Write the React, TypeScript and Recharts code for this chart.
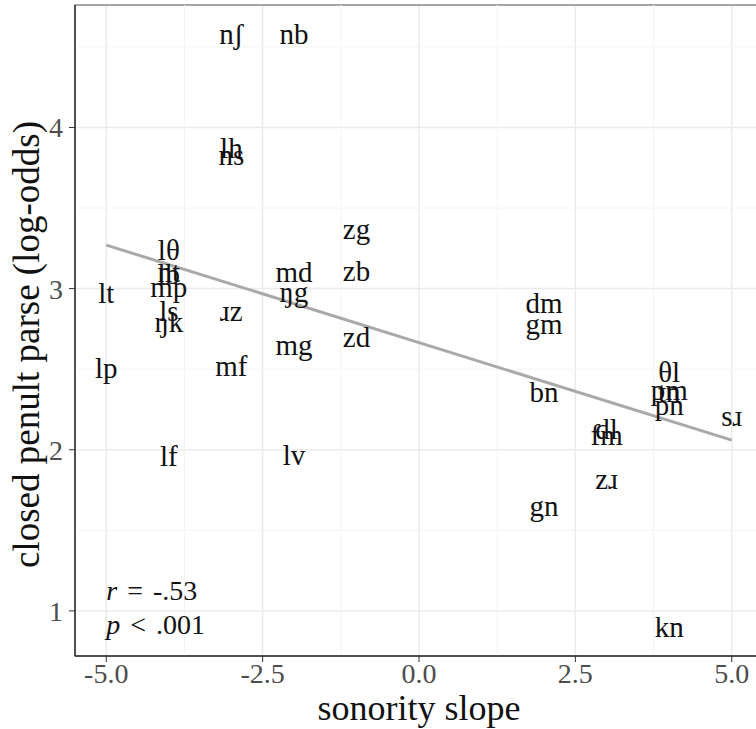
import {
  ComposedChart,
  Scatter,
  XAxis,
  YAxis,
  CartesianGrid,
  ReferenceLine,
  ReferenceArea,
} from 'recharts'

// cluster labels, sonority slope, closed-penult log-odds
const clusters = ['nʃ', 'nb', 'lh', 'ns', 'zg', 'zb', 'zd', 'md', 'ŋg', 'mg', 'lv', 'ɹz', 'mf', 'lθ', 'nt', 'lb', 'mp', 'ls', 'ŋk', 'lf', 'lt', 'lp', 'dm', 'gm', 'bn', 'gn', 'dl', 'fm', 'zɹ', 'θl', 'pm', 'tn', 'pn', 'kn', 'sɹ']
const slopes = [-3, -2, -3, -3, -1, -1, -1, -2, -2, -2, -2, -3, -3, -4, -4, -4, -4, -4, -4, -4, -5, -5, 2, 2, 2, 2, 3, 3, 3, 4, 4, 4, 4, 4, 5]
const logOdds = [4.58, 4.58, 3.87, 3.83, 3.37, 3.11, 2.7, 3.1, 2.98, 2.65, 1.97, 2.86, 2.52, 3.24, 3.1, 3.09, 3.01, 2.86, 2.79, 1.96, 2.97, 2.51, 2.91, 2.78, 2.36, 1.65, 2.13, 2.09, 1.82, 2.48, 2.37, 2.36, 2.28, 0.9, 2.21]

// fitted line endpoints
const fitX = [-5, 5]
const fitY = [3.27, 2.06]

const xTicks = [-5, -2.5, 0, 2.5, 5]
const xMinor = [-3.75, -1.25, 1.25, 3.75]
const yTicks = [1, 2, 3, 4]
const yMinor = [1.5, 2.5, 3.5, 4.5]

const statsText = [['r', ' = -.53'], ['p', ' < .001']]
const statsY = [1.13, 0.92]

const FONT = '"Liberation Serif", "DejaVu Serif", serif'

const points = clusters.map((c, i) => ({ x: slopes[i], y: logOdds[i], label: c }))
const stats = statsText.map((s, i) => ({ x: -5, y: statsY[i], ital: s[0], rest: s[1] }))

const LabelShape = (props: any) => {
  const { cx, cy, payload } = props
  return (
    <text x={cx} y={cy} textAnchor="middle" dominantBaseline="central"
      fontFamily={FONT} fontSize={29} fill="#111">
      {payload.label}
    </text>
  )
}

const StatShape = (props: any) => {
  const { cx, cy, payload } = props
  return (
    <text x={cx} y={cy} textAnchor="start" dominantBaseline="central"
      fontFamily={FONT} fontSize={28} fill="#111" style={{ wordSpacing: 3 }}>
      <tspan fontStyle="italic">{payload.ital}</tspan>
      <tspan>{payload.rest}</tspan>
    </text>
  )
}

export default function App() {
  return (
    <div style={{ position: 'absolute', left: 0, top: 0, width: 756, height: 729, overflow: 'hidden', background: '#fff' }}>
      <ComposedChart width={770} height={729} margin={{ top: 5, right: 7, left: 0, bottom: 0 }}>
        <CartesianGrid stroke="#ebebeb" strokeWidth={1.5} />
        {xMinor.map((v) => (
          <ReferenceLine key={'xm' + v} x={v} stroke="#f4f4f4" strokeWidth={1} />
        ))}
        {yMinor.map((v) => (
          <ReferenceLine key={'ym' + v} y={v} stroke="#f4f4f4" strokeWidth={1} />
        ))}
        <ReferenceArea x1={-5.5} x2={5.5} y1={0.72} y2={4.76} fill="none" stroke="#8c8c8c" strokeWidth={1.5} ifOverflow="visible" />
        <XAxis
          type="number"
          dataKey="x"
          domain={[-5.5, 5.5]}
          ticks={xTicks}
          allowDataOverflow
          tickFormatter={(v: number) => v.toFixed(1)}
          tick={{ fontSize: 28, fill: '#4d4d4d', fontFamily: FONT }}
          tickSize={6}
          tickMargin={1}
          tickLine={{ stroke: '#333' }}
          axisLine={{ stroke: '#333', strokeWidth: 1.5 }}
          height={73}
          label={{ value: 'sonority slope', position: 'insideBottom', offset: 9, fontSize: 36, fill: '#111', fontFamily: FONT }}
        />
        <YAxis
          type="number"
          dataKey="y"
          domain={[0.72, 4.76]}
          ticks={yTicks}
          allowDataOverflow
          tick={{ fontSize: 28, fill: '#4d4d4d', fontFamily: FONT }}
          tickSize={6}
          tickMargin={6}
          tickLine={{ stroke: '#333' }}
          axisLine={{ stroke: '#333', strokeWidth: 1.5 }}
          width={75}
          label={{ value: 'closed penult parse (log-odds)', angle: -90, position: 'center', dx: -12, dy: 14, fontSize: 37, fill: '#111', fontFamily: FONT }}
        />
        <ReferenceLine
          segment={[{ x: fitX[0], y: fitY[0] }, { x: fitX[1], y: fitY[1] }]}
          stroke="#a9a9a9"
          strokeWidth={3}
        />
        <Scatter data={points} shape={LabelShape} isAnimationActive={false} />
        <Scatter data={stats} shape={StatShape} isAnimationActive={false} />
      </ComposedChart>
    </div>
  )
}
